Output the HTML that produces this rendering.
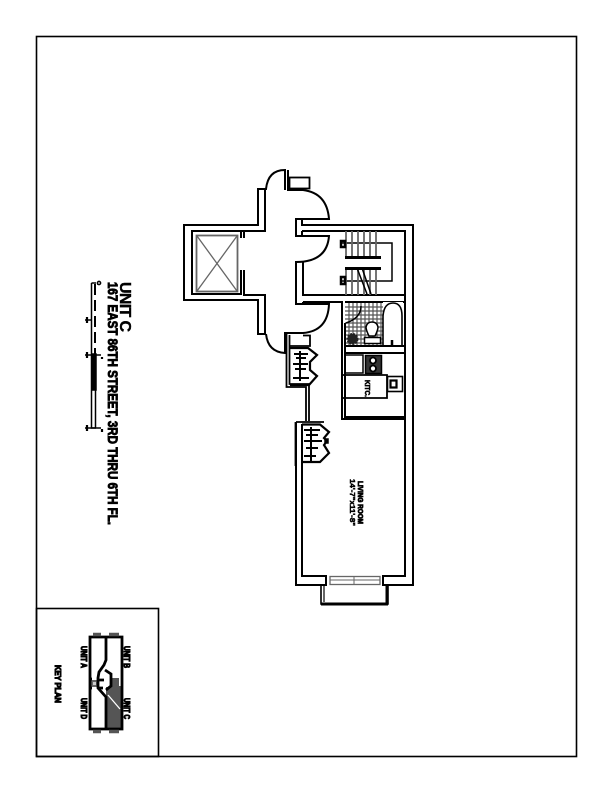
<!DOCTYPE html>
<html><head><meta charset="utf-8"><style>
html,body{margin:0;padding:0;background:#fff}
svg{display:block}
text{font-family:"Liberation Sans",sans-serif;font-weight:bold;fill:#000}
</style></head><body>
<svg width="612" height="792" viewBox="0 0 612 792" xmlns="http://www.w3.org/2000/svg">
<rect width="612" height="792" fill="#fff"/>
<g fill="none" stroke="#000" stroke-width="1.6">
<rect x="36.500" y="36.500" width="540" height="720"/>
<rect x="36.500" y="608.500" width="122" height="148"/>
</g>

<!-- bathroom tile -->
<g stroke="#555" stroke-width="1.200">
<path d="M345 307H383M345 311H383M345 315H383M345 319H383M345 323H383M345 327H383M345 331H383M345 335H383M345 339H383M345 343H383"/>
<path d="M349 303V346M353 303V346M357 303V346M361 303V346M365 303V346M369 303V346M373 303V346M377 303V346M381 303V346"/>
</g>

<!-- walls -->
<g fill="none" stroke="#000" stroke-width="2">
<path d="M285 190V170Q268 170 266 189H258V225H184V300H258V334H266"/>
<path d="M265 189V231H192V294H241V270M241 238V231"/>
<path d="M244 238V232M244 270V295H265V334"/>
<path d="M266 334Q268 352 285 353V333H303Q328 331 329 304H296V262Q327 262 329 236H302V231"/>
<path d="M288 170V190H303Q327 193 329 219H296V236H302"/>
<path d="M302 219V225H413V585H383V576H405V231H302"/>
<path d="M296 422V585H326V576H302V424"/>
<path d="M303 262V295H405M303 302H342V323M303 304V302"/>
<path d="M345 302H405M342 323V419H405M345 323V417H405"/>
<path d="M345 346H405M345 353H405"/>
<rect x="289.500" y="177.500" width="20" height="11" stroke-width="1.800"/>
<!-- stair -->
<path d="M342 243H392V281H342" stroke-width="1.500"/>
</g>
<!-- stair treads -->
<g fill="none" stroke="#666" stroke-width="1.800">
<path d="M346 231V257M352 231V257M358 231V257M364 231V257M370 231V257M376 231V257"/>
<path d="M346 270V295M352 270V295M358 270V295M364 270V295M370 270V295M376 270V295"/>
</g>
<g fill="none" stroke="#000" stroke-width="2">
<path d="M345 257.500H381M345 268.500H381" stroke-width="3"/>
<path d="M357 268L367 294M362 268L371 294" stroke-width="1.500"/>
<path d="M341 241H345V247H341ZM341 277H345V284H341Z" stroke-width="2.500"/>
<!-- tub -->
<rect x="383" y="302" width="20" height="43" fill="#fff" stroke="none"/>
<path d="M383 346V316Q384 303 393 303Q402 303 402 316V346" stroke-width="1.600"/>
<path d="M392 340V345" stroke-width="2.500"/>
<!-- toilet -->
<path d="M369 336Q366 330 366 327Q367 322 372 322Q377 322 378 327Q378 330 375 336Z" fill="#fff" stroke-width="1.500"/>
<rect x="364.500" y="337.500" width="16" height="6" fill="#fff" stroke-width="1.500"/>
<!-- bath door arc -->
<path d="M361 306Q361 318 346 323" stroke-width="1.500"/>
<circle cx="352.500" cy="339" r="5" fill="#222" stroke="#222" stroke-dasharray="2 1"/>
<!-- kitchen -->
<path d="M345 355H363V373H345" stroke-width="1.500"/>
<rect x="365.500" y="355.500" width="16" height="18" fill="#333" stroke-width="1.500"/>
<circle cx="373" cy="360.500" r="3" fill="#fff" stroke-width="1.800"/><circle cx="373" cy="368.500" r="3" fill="#fff" stroke-width="1.800"/>
<path d="M343 375H387V398H343" stroke-width="1.800"/>
<rect x="387.500" y="376.500" width="15" height="15" stroke-width="1.600"/>
<rect x="390.500" y="380.500" width="6" height="7" stroke-width="2.200"/>
<!-- closets -->
<path d="M286.500 333V387H306V421M289.500 335V384H309V421" stroke-width="1.800"/>
<path d="M303 335.500H310V346H290" stroke-width="1.800"/>
<path d="M290 348H308L317 355L310 362V370L317 376L309 385H290" stroke-width="2.200"/>
<path d="M295.500 422V466M306 422H324M296 422H306" stroke-width="1.800"/>
<path d="M302 424.500H320L329 432L324 438L327 441L324 445L329 453L320 462H302" stroke-width="2.200"/>
<rect x="325" y="439" width="3" height="4" stroke-width="1.500"/>
<!-- balcony -->
<path d="M321 585V604H388V585" stroke-width="1.600"/>
<path d="M324 586V602" stroke-width="1.200"/>
<path d="M321 604H388M387 585V604" stroke-width="3"/>
</g>

<!-- closet hangers -->
<g stroke="#000" stroke-width="2" fill="none">
<path d="M300 351V381M294 354H308M296 358H306M293 364H308M295 369H306M293 378H309"/>
<path d="M311 427V462M304 430H320M306 435H318M304 441H322M306 448H318M304 456H316"/>
</g>

<!-- elevator car -->
<g fill="none" stroke="#666" stroke-width="1.800">
<rect x="196.500" y="235.500" width="41" height="56"/>
<path d="M197 236L237 291M237 236L197 291" stroke-width="1.300"/>
<!-- window -->
<rect x="330" y="576.500" width="50" height="8" stroke-width="1.300"/>
<path d="M330 580H380M354 576V584" stroke-width="1"/>
</g>

<!-- labels in plan -->
<text transform="translate(358,481) rotate(90)" font-size="7" textLength="43" lengthAdjust="spacingAndGlyphs" stroke="#000" stroke-width=".8">LIVING ROOM</text>
<text transform="translate(350,479) rotate(90)" font-size="7" textLength="47" lengthAdjust="spacingAndGlyphs" stroke="#000" stroke-width=".5">14'-7"x11'-8"</text>
<text transform="translate(365,380) rotate(90)" font-size="7" textLength="17" lengthAdjust="spacingAndGlyphs" stroke="#000" stroke-width=".6">KITC.</text>

<!-- titles -->
<text transform="translate(120,282) rotate(90)" font-size="16" textLength="50" lengthAdjust="spacing" stroke="#000" stroke-width=".4">UNIT C</text>
<text transform="translate(108,282) rotate(90)" font-size="14" textLength="243" lengthAdjust="spacingAndGlyphs" stroke="#000" stroke-width=".9">167 EAST 86TH STREET, 3RD THRU 6TH FL.</text>

<!-- scale bar -->
<g fill="none" stroke="#000" stroke-width="1.500">
<path d="M91.500 283V428H96M91.500 283H96"/>
<path d="M95 284V354" stroke-width="2" stroke-dasharray="11 5"/>
<rect x="92" y="354" width="4" height="36" fill="#000"/>
<path d="M95.500 390V428"/>
<path d="M97 284H98M85 320H91M85 355H101M85 428H101"/>
<circle cx="99" cy="283" r="1.600"/>
<path d="M87 317V323M87 352V358M87 425V431M102 357V359M102 429V432" stroke-width="2.200"/>
</g>

<!-- key plan -->
<path d="M106 687H111V678H119V686H121V728H106Z" fill="#555"/>
<rect x="91" y="680" width="7" height="7" fill="#666"/>
<rect x="93" y="682" width="3" height="3" fill="#ccc"/>
<g fill="none" stroke="#000" stroke-width="2.800">
<path d="M90 637H122V729H90Z"/>
<path d="M106 637V660L104 665L99 672L98 678V688L106 697V729"/>
<path d="M105 670L111 674V686L106 690M90 679H92M90 688H92M98 680H104M98 688H103"/>
</g>
<path d="M93 634.500H101M109 634.500H119M93 731.500H101M109 731.500H119" stroke="#555" stroke-width="3.500"/>
<path d="M108 695L120 709" stroke="#fff" stroke-width="1.300"/>
<g stroke="#000" stroke-width="1" font-size="8">
<text transform="translate(81,646) rotate(90)" textLength="22" lengthAdjust="spacingAndGlyphs">UNIT A</text>
<text transform="translate(81,698) rotate(90)" textLength="21" lengthAdjust="spacingAndGlyphs">UNIT D</text>
<text transform="translate(124,646) rotate(90)" textLength="22" lengthAdjust="spacingAndGlyphs">UNIT B</text>
<text transform="translate(124,698) rotate(90)" textLength="21" lengthAdjust="spacingAndGlyphs">UNIT C</text>
<text transform="translate(55,665) rotate(90)" textLength="38" lengthAdjust="spacingAndGlyphs">KEY PLAN</text>
</g>
</svg>
</body></html>
